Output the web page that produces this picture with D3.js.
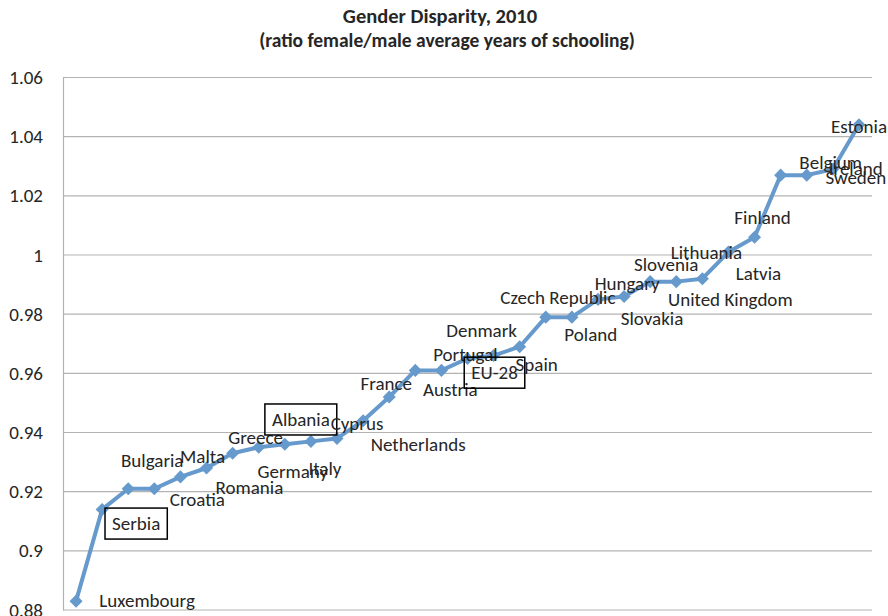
<!DOCTYPE html>
<html>
<head>
<meta charset="utf-8">
<script src="https://cdn.jsdelivr.net/npm/d3@7"></script>
<style>
  html, body { margin: 0; padding: 0; background: #fff; }
  svg { display: block; }
  text { font-family: Carlito, Lato, "Open Sans", sans-serif; fill: #262626; }
</style>
</head>
<body>
<svg id="chart" width="888" height="616"></svg>
<script>
// Countries ordered by the female/male ratio of average years of schooling, 2010
const countries = [
  "Luxembourg", "Serbia", "Bulgaria", "Croatia", "Romania", "Malta", "Greece",
  "Germany", "Albania", "Italy", "Cyprus", "Netherlands", "France", "Austria",
  "Portugal", "EU-28", "Denmark", "Spain", "Poland", "Czech Republic", "Slovakia",
  "Hungary", "Slovenia", "United Kingdom", "Lithuania", "Latvia", "Finland",
  "Belgium", "Ireland", "Sweden", "Estonia"
];
const ratios = [
  0.883, 0.914, 0.921, 0.921, 0.925, 0.928, 0.933,
  0.935, 0.936, 0.937, 0.938, 0.944, 0.952, 0.961,
  0.961, 0.965, 0.966, 0.969, 0.979, 0.979, 0.985,
  0.986, 0.991, 0.991, 0.992, 1.001, 1.006,
  1.027, 1.027, 1.029, 1.044
];
// Names drawn inside a frame
const boxed = ["Serbia", "Albania", "EU-28"];
const yTicks = [0.88, 0.90, 0.92, 0.94, 0.96, 0.98, 1.00, 1.02, 1.04, 1.06];
const titleLines = ["Gender Disparity, 2010", "(ratio female/male average years of schooling)"];

// Label placement relative to each marker (pixels)
const labelNudge = [
  [71, -1], [34, 14], [24, -28], [43, 11], [69, 10], [-4, -12], [23, -16],
  [34, 24], [16, -25], [14, 27], [20, -15], [55, 24], [-3, -14], [35, 19],
  [24, -16], [27, 14], [-12, -25], [17, 18], [45, 17], [-14, -20], [54, 19],
  [3, -13], [16, -17], [54, 18], [4, -26], [30, 21], [8, -20],
  [50, -13], [49, -7], [23, 8], [0, 2]
];

const svg = d3.select("#chart");
const margin = { left: 63, right: 16, top: 77.5, bottom: 6 };
const W = 888, H = 616;

const x = d3.scalePoint()
  .domain(countries)
  .range([margin.left, W - margin.right])
  .padding(0.5);

const y = d3.scaleLinear()
  .domain([0.88, 1.06])
  .range([H - margin.bottom, margin.top]);

// Horizontal gridlines
svg.append("g")
  .selectAll("line")
  .data(yTicks)
  .join("line")
  .attr("x1", margin.left)
  .attr("x2", W - margin.right)
  .attr("y1", d => y(d))
  .attr("y2", d => y(d))
  .attr("stroke", "#b3b3b3")
  .attr("stroke-width", 1.2);

// Value axis
const yAxis = d3.axisLeft(y)
  .tickValues(yTicks)
  .tickSize(0)
  .tickPadding(20)
  .tickFormat(d => d3.format("")(+d.toFixed(2)));

const gy = svg.append("g")
  .attr("transform", `translate(${margin.left},0)`)
  .call(yAxis);
gy.select(".domain").attr("stroke", "#b3b3b3").attr("stroke-width", 1.2);
gy.selectAll("text")
  .attr("font-size", 19)
  .attr("fill", "#262626")
  .style("font-family", "Carlito, Lato, 'Open Sans', sans-serif");

// Title
svg.append("g")
  .selectAll("text")
  .data(titleLines)
  .join("text")
  .attr("x", (d, i) => i === 0 ? 440 : 447)
  .attr("y", (d, i) => 23 + i * 24)
  .attr("text-anchor", "middle")
  .attr("font-size", (d, i) => i === 0 ? 20.5 : 19.5)
  .attr("font-weight", "bold")
  .attr("fill", "#000")
  .text(d => d);

// Series line
const pts = countries.map((c, i) => ({ name: c, value: ratios[i], i }));

svg.append("path")
  .datum(pts)
  .attr("fill", "none")
  .attr("stroke", "#6699cc")
  .attr("stroke-width", 4)
  .attr("stroke-linejoin", "round")
  .attr("d", d3.line().x(d => x(d.name)).y(d => y(d.value)));

// Diamond markers
svg.append("g")
  .selectAll("path")
  .data(pts)
  .join("path")
  .attr("transform", d => `translate(${x(d.name)},${y(d.value)}) rotate(45)`)
  .attr("d", d3.symbol().type(d3.symbolSquare).size(85))
  .attr("fill", "#6699cc");

// Country labels
const labels = svg.append("g")
  .selectAll("g")
  .data(pts)
  .join("g")
  .attr("transform", d => `translate(${x(d.name) + labelNudge[d.i][0]},${y(d.value) + labelNudge[d.i][1]})`);

labels.append("text")
  .attr("text-anchor", "middle")
  .attr("dy", "0.35em")
  .attr("font-size", 19)
  .attr("fill", "#3a3a3a")
  .text(d => d.name);

labels.filter(d => boxed.includes(d.name)).each(function () {
  const g = d3.select(this);
  const bb = g.select("text").node().getBBox();
  g.insert("rect", "text")
    .attr("x", bb.x - 7)
    .attr("y", bb.y - 4)
    .attr("width", bb.width + 14)
    .attr("height", bb.height + 8)
    .attr("fill", "none")
    .attr("stroke", "#000")
    .attr("stroke-width", 1.5);
});
</script>
</body>
</html>
